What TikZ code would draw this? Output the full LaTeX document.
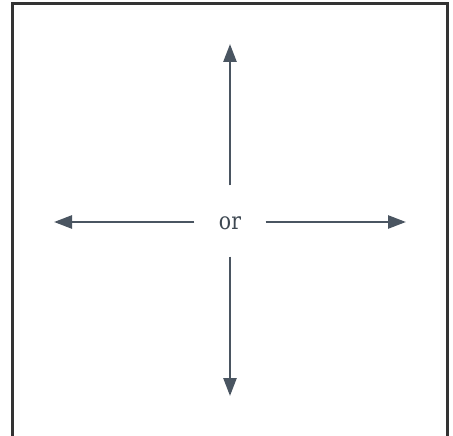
\documentclass[tikz,border=0pt]{standalone}
\usepackage{fontspec}
\newfontfamily\slabfont[FakeStretch=0.85]{DejaVu Serif}
\usetikzlibrary{arrows.meta}
\definecolor{arrowc}{HTML}{4A5561}
\definecolor{textc}{HTML}{3E4852}
\definecolor{framec}{HTML}{333333}
\tikzset{
  conn/.style={draw=arrowc, line width=2.6pt, -{Triangle[length=18pt,width=13pt]}},
  hub/.style={minimum width=71pt, minimum height=71pt, inner sep=0pt, text=textc, font=\slabfont\fontsize{24}{24}\selectfont},
  frame/.style={draw=framec, line width=2.6pt}
}
\begin{document}
\begin{tikzpicture}[x=1pt,y=-1pt]
\useasboundingbox (0,0) rectangle (453,436);
\fill[white] (0,0) rectangle (453,436);
\draw[frame] (12.5,445) -- (12.5,3.5) -- (447.5,3.5) -- (447.5,445);
\node[hub] (or) at (230,221) {\raisebox{-8.5pt}[0pt][0pt]{or}};
\coordinate (top) at (230,44);
\coordinate (bottom) at (230,396);
\coordinate (left) at (54,222);
\coordinate (right) at (406,222);
\draw[conn] (or.north) -- (top);
\draw[conn] (or.south) -- (bottom);
\draw[conn] (or.west |- left) -- (left);
\draw[conn] (or.east |- right) -- (right);
\end{tikzpicture}
\end{document}
